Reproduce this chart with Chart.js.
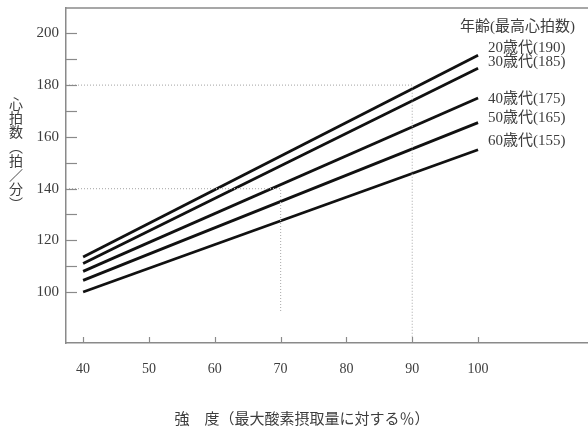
<!DOCTYPE html>
<html>
<head>
<meta charset="utf-8">
<script src="https://cdn.jsdelivr.net/npm/chart.js@4.4.1/dist/chart.umd.min.js"></script>
<style>
  html, body { margin: 0; padding: 0; background: #fff; }
  canvas { display: block; }
</style>
</head>
<body>
<canvas id="hrChart" width="588" height="429"></canvas>
<script>
// data
var ageGroups = ['20歳代(190)', '30歳代(185)', '40歳代(175)', '50歳代(165)', '60歳代(155)'];
var intensity = [40, 100];
var hrAt40 = [113.5, 111, 108, 104.5, 100];
var hrAt100 = [191.5, 186.5, 175, 165.5, 155];
var xTicks = [40, 50, 60, 70, 80, 90, 100];
var yTicks = [100, 120, 140, 160, 180, 200];
var refIntensity = [70, 90];
var refHeartRate = [140, 180];
var refDropTo = [92, 82];

var legendTitle = '年齢(最高心拍数)';
var xTitle = '強　度（最大酸素摂取量に対する％）';
var yTitleChars = ['心', '拍', '数', '︵', '拍', '／', '分', '︶'];

var X_MIN = 37.4, X_MAX = 116.7;
var Y_MIN = 80.3, Y_MAX = 209.8;
var serif = "'Liberation Serif', 'Noto Sans CJK JP', serif";
var textColor = '#3d3d3d';
var axisColor = '#8a8a8a';

var datasets = [];
for (var i = 0; i < refIntensity.length; i++) {
    datasets.push({
        data: [
            { x: X_MIN, y: refHeartRate[i] },
            { x: refIntensity[i], y: refHeartRate[i] },
            { x: refIntensity[i], y: refDropTo[i] }
        ],
        borderColor: '#b5b5b5',
        borderWidth: 1.2,
        borderDash: [1, 2],
        pointRadius: 0,
        fill: false
    });
}
for (var j = 0; j < ageGroups.length; j++) {
    datasets.push({
        label: ageGroups[j],
        data: [
            { x: intensity[0], y: hrAt40[j] },
            { x: intensity[1], y: hrAt100[j] }
        ],
        borderColor: '#111',
        borderWidth: 2.8,
        pointRadius: 0,
        fill: false
    });
}

// nudges (in heart-rate units) so the labels sit where the reference puts them
var labelNudge = [2.9, 2.5, -0.3, 1.8, 3.4];

var decorations = {
    id: 'decorations',
    afterDraw: function(chart) {
        var ctx = chart.ctx;
        var area = chart.chartArea;
        var xs = chart.scales.x, ys = chart.scales.y;
        ctx.save();

        // top frame line
        ctx.strokeStyle = axisColor;
        ctx.lineWidth = 1.5;
        ctx.beginPath();
        ctx.moveTo(area.left, area.top);
        ctx.lineTo(area.right, area.top);
        ctx.stroke();

        // inner tick marks
        ctx.lineWidth = 1.2;
        for (var v = 100; v <= 200; v += 10) {
            var py = Math.round(ys.getPixelForValue(v)) + 0.5;
            ctx.beginPath();
            ctx.moveTo(area.left, py);
            ctx.lineTo(area.left + 11, py);
            ctx.stroke();
        }
        xTicks.forEach(function(t) {
            var px = Math.round(xs.getPixelForValue(t)) + 0.5;
            ctx.beginPath();
            ctx.moveTo(px, area.bottom);
            ctx.lineTo(px, area.bottom - 6);
            ctx.stroke();
        });

        ctx.fillStyle = textColor;
        ctx.textBaseline = 'middle';

        // series labels at the line ends
        ctx.font = '15px ' + serif;
        ctx.textAlign = 'left';
        ctx.fillText(legendTitle, 460, 27);
        var lx = xs.getPixelForValue(intensity[1]) + 10;
        ageGroups.forEach(function(name, k) {
            ctx.fillText(name, lx, ys.getPixelForValue(hrAt100[k] + labelNudge[k]));
        });

        // vertical y title
        ctx.font = '14px ' + serif;
        ctx.textAlign = 'center';
        yTitleChars.forEach(function(ch, k) {
            ctx.fillText(ch, 16, 105 + k * 14.3);
        });

        // x title
        ctx.font = '15px ' + serif;
        ctx.fillText(xTitle, 302, 420);
        ctx.restore();
    }
};

new Chart(document.getElementById('hrChart'), {
    type: 'line',
    data: { datasets: datasets },
    options: {
        responsive: false,
        devicePixelRatio: 1,
        animation: false,
        layout: { padding: { top: 8, right: 0, left: 0, bottom: 0 } },
        plugins: {
            legend: { display: false },
            tooltip: { enabled: false }
        },
        scales: {
            x: {
                type: 'linear',
                min: X_MIN,
                max: X_MAX,
                afterBuildTicks: function(scale) {
                    scale.ticks = xTicks.map(function(v) { return { value: v }; });
                },
                afterFit: function(scale) {
                    scale.height = 86;
                    scale.paddingLeft = 0;
                    scale.paddingRight = 0;
                },
                grid: { display: false, drawTicks: false },
                border: { display: true, color: axisColor, width: 1.5 },
                ticks: {
                    padding: 18,
                    color: textColor,
                    font: { family: serif, size: 14 },
                    maxRotation: 0
                }
            },
            y: {
                type: 'linear',
                min: Y_MIN,
                max: Y_MAX,
                afterBuildTicks: function(scale) {
                    scale.ticks = yTicks.map(function(v) { return { value: v }; });
                },
                afterFit: function(scale) {
                    scale.width = 66;
                    scale.paddingTop = 0;
                    scale.paddingBottom = 0;
                },
                grid: { display: false, drawTicks: false },
                border: { display: true, color: axisColor, width: 1.5 },
                ticks: {
                    padding: 7,
                    color: textColor,
                    font: { family: serif, size: 15 }
                }
            }
        }
    },
    plugins: [decorations]
});
</script>
</body>
</html>
